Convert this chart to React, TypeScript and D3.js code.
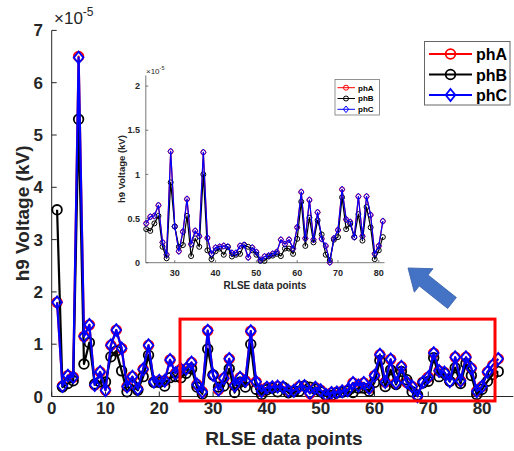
import React from 'react';
import * as d3 from 'd3';

// data points 1..83, values in units of 1e-5 kV
const pointIdx = d3.range(1, 84);
const phA = [1.8, 0.2, 0.4, 0.37, 6.5, 1.15, 1.37, 0.22, 0.47, 0.12, 0.98, 1.27, 0.92, 0.19, 0.38, 0.14, 0.52, 0.98, 0.28, 0.3,
  0.3, 0.7, 0.445, 0.52, 0.53, 0.65, 0.23, 0.09, 1.26, 0.41, 0.13, 0.35, 0.72, 0.21, 0.36, 0.3, 1.25, 0.28, 0.1, 0.17,
  0.18, 0.19, 0.18, 0.11, 0.11, 0.19, 0.2, 0.06, 0.17, 0.12, 0.03, 0.07, 0.08, 0.1, 0.12, 0.26, 0.21, 0.26, 0.16, 0.4,
  0.8, 0.275, 0.71, 0.26, 0.57, 0.27, 0.19, 0.005, 0.275, 0.37, 0.83, 0.49, 0.46, 0.29, 0.75, 0.3, 0.75, 0.54, 0.1, 0.19,
  0.47, 0.6, 0.72];
const phB = [3.57, 0.18, 0.25, 0.3, 5.3, 0.62, 1.03, 0.24, 0.28, 0.28, 0.76, 0.87, 0.49, 0.09, 0.22, 0.12, 0.38, 0.79, 0.27, 0.27,
  0.2, 0.36, 0.38, 0.36, 0.445, 0.53, 0.18, 0.05, 0.91, 0.41, 0.18, 0.2, 0.53, 0.075, 0.275, 0.18, 1.0, 0.14, 0.04, 0.13,
  0.16, 0.09, 0.18, 0.07, 0.09, 0.1, 0.2, 0.18, 0.14, 0.09, 0.02, 0.02, 0.07, 0.08, 0.1, 0.075, 0.16, 0.16, 0.1, 0.27,
  0.69, 0.19, 0.51, 0.23, 0.48, 0.32, 0.09, 0.03, 0.26, 0.29, 0.74, 0.38, 0.44, 0.29, 0.55, 0.25, 0.63, 0.4, 0.04, 0.14,
  0.29, 0.42, 0.48];
const phC = [1.8, 0.2, 0.4, 0.37, 6.48, 1.15, 1.37, 0.22, 0.47, 0.12, 0.98, 1.27, 0.92, 0.19, 0.38, 0.14, 0.52, 0.98, 0.28, 0.3,
  0.3, 0.7, 0.445, 0.52, 0.53, 0.65, 0.23, 0.09, 1.26, 0.41, 0.13, 0.35, 0.72, 0.21, 0.36, 0.3, 1.25, 0.28, 0.1, 0.17,
  0.18, 0.19, 0.18, 0.11, 0.11, 0.19, 0.2, 0.06, 0.17, 0.12, 0.03, 0.07, 0.08, 0.1, 0.12, 0.26, 0.21, 0.26, 0.16, 0.4,
  0.8, 0.275, 0.71, 0.26, 0.57, 0.27, 0.19, 0.005, 0.275, 0.37, 0.83, 0.49, 0.46, 0.29, 0.75, 0.3, 0.75, 0.54, 0.1, 0.19,
  0.47, 0.6, 0.72];

const seriesNames = ['phA', 'phB', 'phC'];
const seriesColors = ['#ff0000', '#000000', '#0000ff'];
const seriesMarkers = ['circle', 'circle', 'diamond'];
const allSeries = [phA, phB, phC];

const mainXTicks = [0, 10, 20, 30, 40, 50, 60, 70, 80];
const mainYTicks = [0, 1, 2, 3, 4, 5, 6, 7];
const insetXTicks = [30, 40, 50, 60, 70, 80];
const insetYTicks = [0, 0.5, 1, 1.5, 2];
const insetRange = [23, 81];

// highlight box (data units of main axes)
const boxX = [23.85, 82.4];
const boxY = [1.48, -0.085];

const FONT = '"Liberation Sans", Arial, sans-serif';
const AXC = '#262626';

type Cfg = {
  x: d3.ScaleLinear<number, number>;
  y: d3.ScaleLinear<number, number>;
  lw: number;
  r: number;
  dw: number;
  dh: number;
  mw: number;
};

function Marker({ kind, cx, cy, color, c }: { kind: string; cx: number; cy: number; color: string; c: Cfg }) {
  if (kind === 'circle') {
    return <circle cx={cx} cy={cy} r={c.r} fill="none" stroke={color} strokeWidth={c.mw} />;
  }
  const d = `M${cx},${cy - c.dh}L${cx + c.dw},${cy}L${cx},${cy + c.dh}L${cx - c.dw},${cy}Z`;
  return <path d={d} fill="none" stroke={color} strokeWidth={c.mw} />;
}

function Series({ idx, vals, c, color, kind }: { idx: number[]; vals: number[]; c: Cfg; color: string; kind: string }) {
  const pts = idx.map((i, k) => [i, vals[k]] as [number, number]);
  const line = d3.line<[number, number]>().x(d => c.x(d[0])).y(d => c.y(d[1]));
  return (
    <g>
      <path d={line(pts) || ''} fill="none" stroke={color} strokeWidth={c.lw} strokeLinejoin="round" />
      {pts.map((p, k) => (
        <Marker key={k} kind={kind} cx={c.x(p[0])} cy={c.y(p[1])} color={color} c={c} />
      ))}
    </g>
  );
}

export default function App() {
  // main axes
  const x = d3.scaleLinear().domain([0, 85.8]).range([51.7, 513.3]);
  const y = d3.scaleLinear().domain([0, 7]).range([396.5, 30.4]);
  const mainCfg: Cfg = { x, y, lw: 2.2, r: 4.8, dw: 4.8, dh: 6, mw: 1.8 };

  // inset axes
  const ix = d3.scaleLinear().domain([22.9, 81.4]).range([145.8, 384.5]);
  const iy = d3.scaleLinear().domain([0, 2.12]).range([262.7, 75.5]);
  const insetCfg: Cfg = { x: ix, y: iy, lw: 1.2, r: 2.5, dw: 2.6, dh: 3.3, mw: 1 };

  const lo = insetRange[0] - 1;
  const hi = insetRange[1];
  const insetIdx = pointIdx.slice(lo, hi);

  // arrow geometry
  const tail: [number, number] = [452, 303];
  const tip: [number, number] = [408, 268];
  const ang = (Math.atan2(tip[1] - tail[1], tip[0] - tail[0]) * 180) / Math.PI;
  const len = Math.hypot(tip[0] - tail[0], tip[1] - tail[1]);
  const headL = 20, headW = 15, shaftW = 7;
  const arrowD = `M0,${-shaftW}L${len - headL},${-shaftW}L${len - headL},${-headW}L${len},0L${len - headL},${headW}L${len - headL},${shaftW}L0,${shaftW}Z`;

  return (
    <svg width={514} height={451} style={{ position: 'absolute', left: 0, top: 0, background: '#fff' }}
      fontFamily={FONT}>
      {/* main axes */}
      <g>
        <line x1={x.range()[0]} x2={x.range()[1]} y1={y(0)} y2={y(0)} stroke={AXC} strokeWidth={1} />
        <line x1={x(0)} x2={x(0)} y1={y(0)} y2={y.range()[1]} stroke={AXC} strokeWidth={1} />
        {mainXTicks.map(t => (
          <g key={t}>
            <line x1={x(t)} x2={x(t)} y1={y(0)} y2={y(0) - 5} stroke={AXC} />
            <text x={x(t)} y={413.5} textAnchor="middle" fontSize={17} fontWeight="bold" fill={AXC}>{t}</text>
          </g>
        ))}
        {mainYTicks.map(t => (
          <g key={t}>
            <line x1={x(0)} x2={x(0) + 5} y1={y(t)} y2={y(t)} stroke={AXC} />
            <text x={43} y={y(t) + 6} textAnchor="end" fontSize={17} fontWeight="bold" fill={AXC}>{t}</text>
          </g>
        ))}
        <text x={54} y={24} fontSize={17} fill={AXC}>
          ×10<tspan dy={-8} fontSize={12}>-5</tspan>
        </text>
        <text x={284} y={445} textAnchor="middle" fontSize={19} fontWeight="bold" fill={AXC}>RLSE data points</text>
        <text transform={`translate(29,${(y(0) + y.range()[1]) / 2}) rotate(-90)`} textAnchor="middle"
          fontSize={19} fontWeight="bold" fill={AXC}>h9 Voltage (kV)</text>
      </g>
      {allSeries.map((vals, k) => (
        <Series key={k} idx={pointIdx} vals={vals} c={mainCfg} color={seriesColors[k]} kind={seriesMarkers[k]} />
      ))}

      {/* main legend */}
      <g>
        <rect x={424.5} y={41.5} width={85.5} height={63.5} fill="#fff" stroke="#666" strokeWidth={1} />
        {seriesNames.map((n, k) => {
          const ly = 54 + k * 20.5;
          return (
            <g key={n}>
              <line x1={429} x2={472} y1={ly} y2={ly} stroke={seriesColors[k]} strokeWidth={2} />
              <Marker kind={seriesMarkers[k]} cx={450.5} cy={ly} color={seriesColors[k]} c={mainCfg} />
              <text x={476} y={ly + 6} fontSize={16} fontWeight="bold" fill="#000">{n}</text>
            </g>
          );
        })}
      </g>

      {/* highlight box */}
      <rect x={x(boxX[0])} y={y(boxY[0])} width={x(boxX[1]) - x(boxX[0])} height={y(boxY[1]) - y(boxY[0])}
        fill="none" stroke="#ff0000" strokeWidth={3} />

      {/* arrow */}
      <path d={arrowD} transform={`translate(${tail[0]},${tail[1]}) rotate(${ang})`} fill="#4472c4" stroke="#3a64ad" strokeWidth={0.8} />

      {/* inset axes */}
      <g>
        <line x1={ix.range()[0]} x2={ix.range()[1]} y1={iy(0)} y2={iy(0)} stroke="#555" strokeWidth={0.8} />
        <line x1={ix.range()[0]} x2={ix.range()[0]} y1={iy(0)} y2={iy.range()[1]} stroke="#555" strokeWidth={0.8} />
        {insetXTicks.map(t => (
          <g key={t}>
            <line x1={ix(t)} x2={ix(t)} y1={iy(0)} y2={iy(0) - 2.5} stroke="#555" strokeWidth={0.8} />
            <text x={ix(t)} y={275.5} textAnchor="middle" fontSize={9} fontWeight="bold" fill={AXC}>{t}</text>
          </g>
        ))}
        {insetYTicks.map(t => (
          <g key={t}>
            <line x1={ix.range()[0]} x2={ix.range()[0] + 2.5} y1={iy(t)} y2={iy(t)} stroke="#555" strokeWidth={0.8} />
            <text x={140} y={iy(t) + 3.2} textAnchor="end" fontSize={9} fontWeight="bold" fill={AXC}>{t}</text>
          </g>
        ))}
        <text x={146} y={73.5} fontSize={8} fill={AXC}>
          ×10<tspan dy={-3.5} fontSize={5.5}>-5</tspan>
        </text>
        <text x={265} y={289} textAnchor="middle" fontSize={10} fontWeight="bold" fill={AXC}>RLSE data points</text>
        <text transform={`translate(124.5,${(iy(0) + iy.range()[1]) / 2}) rotate(-90)`} textAnchor="middle"
          fontSize={9.5} fontWeight="bold" fill={AXC}>h9 Voltage (kV)</text>
      </g>
      {allSeries.map((vals, k) => (
        <Series key={k} idx={insetIdx} vals={vals.slice(lo, hi)} c={insetCfg} color={seriesColors[k]} kind={seriesMarkers[k]} />
      ))}

      {/* inset legend */}
      <g>
        <rect x={335} y={79.5} width={44.5} height={35.5} fill="#fff" stroke="#777" strokeWidth={0.8} />
        {seriesNames.map((n, k) => {
          const ly = 87.7 + k * 10.8;
          return (
            <g key={n}>
              <line x1={337.5} x2={355} y1={ly} y2={ly} stroke={seriesColors[k]} strokeWidth={1} />
              <Marker kind={seriesMarkers[k]} cx={346} cy={ly} color={seriesColors[k]} c={insetCfg} />
              <text x={358} y={ly + 2.8} fontSize={8} fontWeight="bold" fill="#000">{n}</text>
            </g>
          );
        })}
      </g>
    </svg>
  );
}
